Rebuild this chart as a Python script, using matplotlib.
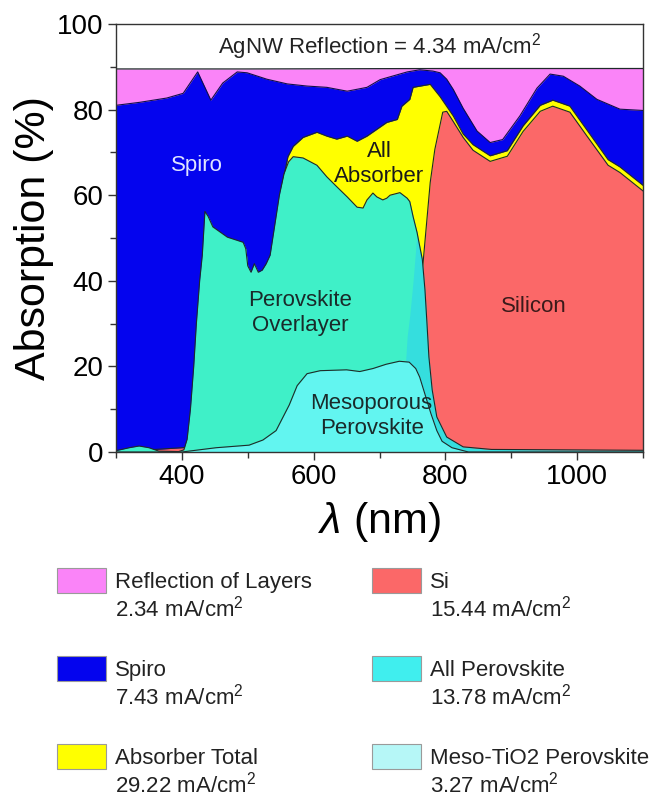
import matplotlib
matplotlib.use("Agg")
import matplotlib.pyplot as plt
from matplotlib.patches import Rectangle
from matplotlib.ticker import MultipleLocator

plt.rcParams["font.family"] = ["Liberation Sans", "DejaVu Sans"]
plt.rcParams["mathtext.fontset"] = "custom"
plt.rcParams["mathtext.rm"] = "Liberation Sans"
plt.rcParams["mathtext.it"] = "Liberation Sans:italic"

# ---- data (wavelength in nm, cumulative absorption in %) ----
refl_wl = [300, 500, 800, 1100]
refl_top = [89.5, 89.5, 89.6, 89.6]

spiro_wl = [300, 336, 377, 402, 424, 444, 462, 484, 499, 529, 560, 590, 620, 651, 681,
            701, 742, 761, 781, 792, 802, 812, 827, 848, 868, 887, 913, 939, 959, 979,
            1004, 1030, 1065, 1100]
spiro_top = [81.0, 81.7, 82.7, 83.8, 88.8, 82.2, 86.2, 88.8, 88.6, 87.1, 86.0, 85.5, 85.2,
             84.3, 85.2, 87.0, 88.8, 89.3, 89.0, 88.6, 87.1, 84.7, 80.3, 75.0, 72.3, 73.0,
             78.5, 85.0, 88.3, 87.8, 85.5, 82.4, 80.1, 79.8]

total_wl = [300, 540, 548, 553, 561, 569, 584, 605, 620, 635, 651, 666, 681, 696,
            711, 727, 734, 746, 751, 777, 792, 812, 827, 842, 868, 894, 918, 944, 963, 989,
            1015, 1047, 1065, 1100]
total_top = [0.1, 0.1, 55, 63, 69, 71.4, 73.5, 74.7, 73.8, 73.1, 73.8, 72.6, 73.8,
             75.4, 77.0, 77.7, 80.8, 82.4, 85.2, 85.9, 83.0, 78.5, 74.3, 71.8, 69.2, 70.4,
             76.2, 81.0, 82.2, 80.8, 75.2, 68.3, 66.6, 62.3]

si_wl = [300, 700, 740, 755, 766, 777, 784, 796, 802, 812, 827, 842, 868, 894, 918, 944,
         963, 989, 1015, 1047, 1065, 1100]
si_top = [0, 4, 15, 30, 44, 63, 70.7, 79.4, 79.6, 77.2, 73.5, 70.5, 67.9, 69.1, 74.9,
          79.6, 80.8, 79.4, 73.8, 67.0, 65.3, 61.0]

pv_wl = [300, 320, 335, 350, 365, 395, 403, 408, 413, 418, 422, 427, 431, 435, 440, 447,
         469, 493, 497, 500, 505, 510, 516, 522, 528, 534, 541, 548, 555, 562, 569, 584,
         605, 620, 635, 651, 666, 675, 681, 690, 696, 705, 711, 716, 731, 742, 746, 751,
         757, 765, 769, 772, 775, 780, 787, 802, 827, 870, 1100]
pv_top = [0.3, 1.0, 1.4, 1.0, 0.2, 0.1, 0.5, 3, 10, 20, 30, 40, 46, 56.2, 55, 52.6,
          50.2, 49, 47.5, 43.5, 42, 44, 42, 42.5, 44, 46, 53, 60, 65, 67.8, 69, 68.7,
          67, 64.3, 62, 59.6, 57.2, 57, 58.9, 60.5, 59.6, 58.9, 59.3, 60, 60.6, 59.3, 58.5, 55,
          51.3, 45, 37.9, 30.2, 22.2, 14.5, 8.2, 3.5, 1.2, 0.6, 0.4]
# lower edge of the overlayer fill (zero up to 731 nm)
pv_base = [0] * 45 + [27, 32, 40, 51.3, 45, 37.9, 30.2, 22.2, 14.5, 8.2, 3.5, 1.2, 0.6, 0.4]

meso_wl = [300, 400, 452, 502, 523, 543, 563, 575, 590, 610, 650, 670, 690, 710, 730, 745,
           755, 761, 770, 778, 787, 795, 810, 835, 1100]
meso_top = [0, 0, 1, 1.6, 2.8, 5.0, 11, 15.5, 18.3, 19, 19.2, 18.8, 19.5, 20.5, 21.2, 21,
            19.5, 17.5, 13, 9, 5, 2.5, 1, 0, 0]

legend_labels = ["Reflection of Layers", "Spiro", "Absorber Total",
                 "Si", "All Perovskite", "Meso-TiO2 Perovskite"]
legend_values = ["2.34", "7.43", "29.22", "15.44", "13.78", "3.27"]
agnw_value = "4.34"

# ---- colours ----
c_pink = "#fa84f8"
c_blue = "#0404ee"
c_yellow = "#ffff00"
c_red = "#fb6868"
c_aqua = "#3ff0c8"
c_cyan = "#35dede"
c_meso = "#62f5f0"
edge = "#1e2a2a"

fig = plt.figure(figsize=(6.61, 7.98), dpi=100)
ax = fig.add_axes([116 / 661, 1 - 452 / 798, (643 - 116) / 661, (452 - 24) / 798])

ax.fill_between(refl_wl, 0, refl_top, color=c_pink, lw=0, zorder=1)
ax.plot(refl_wl, refl_top, color=edge, lw=0.9, zorder=1.5)

ax.fill_between(spiro_wl, 0, spiro_top, color=c_blue, lw=0, zorder=2)
ax.plot(spiro_wl, spiro_top, color="#10104a", lw=0.8, zorder=2.5)

ax.fill_between(total_wl, 0, total_top, color=c_yellow, lw=0, zorder=3)
ax.plot(total_wl, total_top, color=edge, lw=0.8, zorder=3.5)

ax.fill_between(si_wl, 0, si_top, color=c_red, lw=0, zorder=4)
ax.plot(si_wl, si_top, color=edge, lw=0.8, zorder=4.5)

ax.fill_between(pv_wl, 0, pv_top, color=c_cyan, lw=0, zorder=5)
ax.fill_between(pv_wl, pv_base, pv_top, color=c_aqua, lw=0, zorder=5.2)
ax.plot(pv_wl, pv_top, color=edge, lw=0.8, zorder=5.5)

ax.fill_between(meso_wl, 0, meso_top, color=c_meso, lw=0, zorder=6)
ax.plot(meso_wl, meso_top, color=edge, lw=0.8, zorder=6.5)

# region labels
ax.text(700, 94.7, "AgNW Reflection = %s mA/cm$^2$" % agnw_value, ha="center", va="center",
        fontsize=16, color="#222222", zorder=10)
ax.text(423, 67, "Spiro", ha="center", va="center", fontsize=16, color="#dfe4ff", zorder=10)
ax.text(700, 67.3, "All\nAbsorber", ha="center", va="center", fontsize=16,
        color="#1a1a1a", linespacing=1.3, zorder=10)
ax.text(580, 32.5, "Perovskite\nOverlayer", ha="center", va="center", fontsize=16,
        color="#1a2a2a", linespacing=1.25, zorder=10)
ax.text(934, 34, "Silicon", ha="center", va="center", fontsize=16, color="#3a1a1a", zorder=10)
ax.text(688, 8.3, "Mesoporous\nPerovskite", ha="center", va="center", fontsize=16,
        color="#1a2a2a", linespacing=1.25, zorder=10)

ax.set_xlim(300, 1100)
ax.set_ylim(0, 100)
ax.xaxis.set_major_locator(MultipleLocator(200))
ax.xaxis.set_minor_locator(MultipleLocator(100))
ax.yaxis.set_major_locator(MultipleLocator(20))
ax.yaxis.set_minor_locator(MultipleLocator(10))
ax.tick_params(which="both", direction="out", top=False, right=False, color="#333333",
               labelsize=20, width=1)
ax.tick_params(which="major", length=6, pad=3)
ax.tick_params(which="minor", length=4)
for s in ax.spines.values():
    s.set_color("#333333")
    s.set_linewidth(1)
    s.set_zorder(12)

ax.set_ylabel("Absorption (%)", fontsize=31, labelpad=2)
ax.set_xlabel("$\\lambda$ (nm)", fontsize=31, labelpad=7)

# ---- legend drawn by hand below the axes (figure pixels) ----
legend_colors = [c_pink, c_blue, c_yellow, c_red, "#40eeee", "#b6f7f7"]
col_x = [57, 372]
row_y = [568, 656, 744]
for i, (lab, val, col) in enumerate(zip(legend_labels, legend_values, legend_colors)):
    cx = col_x[i // 3]
    ry = row_y[i % 3]
    fig.add_artist(Rectangle((cx / 661, 1 - (ry + 25) / 798), 49 / 661, 25 / 798,
                             transform=fig.transFigure, facecolor=col,
                             edgecolor="#9a9a9a", lw=0.8))
    fig.text((cx + 58) / 661, 1 - (ry + 20) / 798, lab, fontsize=16, color="#222222",
             va="baseline", ha="left")
    fig.text((cx + 58) / 661, 1 - (ry + 48) / 798, "%s mA/cm$^2$" % val, fontsize=16,
             color="#222222", va="baseline", ha="left")

fig.savefig("out.png", dpi=100)
